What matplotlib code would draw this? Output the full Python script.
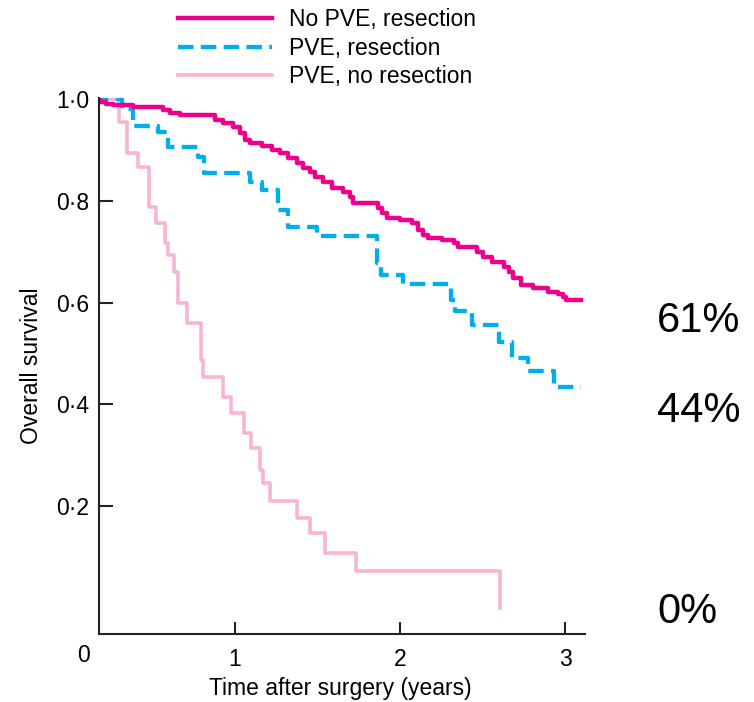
"""Kaplan-Meier style overall survival after surgery, three groups."""
import numpy as np
import matplotlib
matplotlib.use("Agg")
import matplotlib.pyplot as plt

plt.rcParams["font.family"] = ["Liberation Sans", "DejaVu Sans"]

# --- data (years, survival fraction) ---------------------------------------
t_nopve_res = [0.0, 0.184, 0.221, 0.263, 0.384, 0.566, 0.608, 0.669, 0.881, 0.930,
               0.990, 1.033, 1.063, 1.093, 1.166, 1.226, 1.275, 1.324, 1.378, 1.415,
               1.457, 1.487, 1.536, 1.590, 1.657, 1.699, 1.718, 1.869, 1.893, 1.924,
               2.002, 2.075, 2.111, 2.142, 2.172, 2.257, 2.324, 2.354, 2.469, 2.505,
               2.560, 2.627, 2.657, 2.687, 2.730, 2.808, 2.893, 2.954, 2.984, 3.002]
s_nopve_res = [1.0, 0.994, 0.990, 0.988, 0.984, 0.978, 0.972, 0.969, 0.959, 0.953,
               0.945, 0.933, 0.919, 0.914, 0.908, 0.900, 0.894, 0.884, 0.874, 0.864,
               0.857, 0.847, 0.837, 0.825, 0.817, 0.807, 0.796, 0.786, 0.776, 0.766,
               0.762, 0.756, 0.743, 0.733, 0.727, 0.723, 0.717, 0.709, 0.699, 0.690,
               0.680, 0.670, 0.660, 0.648, 0.635, 0.629, 0.621, 0.617, 0.611, 0.605]
end_nopve_res = 3.094

t_pve_res = [0.0, 0.316, 0.384, 0.536, 0.596, 0.778, 0.815, 1.093, 1.166, 1.263, 1.324,
             1.500, 1.861, 1.887, 2.021, 2.306, 2.336, 2.437, 2.602, 2.681, 2.772, 2.930]
s_pve_res = [1.0, 0.980, 0.947, 0.935, 0.906, 0.886, 0.855, 0.837, 0.821, 0.782, 0.749,
             0.731, 0.678, 0.654, 0.637, 0.605, 0.583, 0.556, 0.523, 0.491, 0.466, 0.434]
end_pve_res = 3.094

t_pve_nores = [0.0, 0.298, 0.350, 0.415, 0.481, 0.524, 0.578, 0.596, 0.633, 0.657,
               0.708, 0.795, 0.807, 0.928, 0.976, 1.057, 1.098, 1.154, 1.172, 1.215,
               1.376, 1.457, 1.548, 1.736, 2.608]
s_pve_nores = [1.0, 0.955, 0.894, 0.866, 0.788, 0.756, 0.717, 0.694, 0.660, 0.599,
               0.560, 0.487, 0.454, 0.415, 0.383, 0.344, 0.314, 0.271, 0.246, 0.210,
               0.177, 0.147, 0.108, 0.073, 0.0]
end_pve_nores = 2.608

labels = ["No PVE, resection", "PVE, resection", "PVE, no resection"]
end_pcts = ["61%", "44%", "0%"]

x_ticks = [1, 2, 3]
y_ticks = [0.2, 0.4, 0.6, 0.8, 1.0]
y_ticklabels = ["0·2", "0·4", "0·6", "0·8", "1·0"]

MAGENTA = "#EC008C"
CYAN = "#00AEEF"
PINK = "#F7B5D3"

W, H = 754, 702


def _curve(t, s, end):
    return np.append(t, end), np.append(s, s[-1])


fig = plt.figure(figsize=(W / 100, H / 100), dpi=100)
ax = fig.add_axes([99 / W, 68 / H, 486 / W, 536 / H])

x, y = _curve(t_pve_nores, s_pve_nores, end_pve_nores)
l3, = ax.step(x, y, where="post", color=PINK, lw=2.6, label=labels[2])
x, y = _curve(t_pve_res, s_pve_res, end_pve_res)
l2, = ax.step(x, y, where="post", color=CYAN, lw=3.1, linestyle=(0, (3.6, 1.7)),
              label=labels[1])
x, y = _curve(t_nopve_res, s_nopve_res, end_nopve_res)
l1, = ax.step(x, y, where="post", color=MAGENTA, lw=3.2, label=labels[0])

ax.set_xlim(0.178, 3.12)
ax.set_ylim(-0.051, 1.002)

for side in ("top", "right"):
    ax.spines[side].set_visible(False)
for side in ("left", "bottom"):
    ax.spines[side].set_linewidth(1.5)
    ax.spines[side].set_color("#222222")

ax.set_xticks(x_ticks)
ax.set_xticklabels([str(v) for v in x_ticks])
ax.set_yticks(y_ticks)
ax.set_yticklabels(y_ticklabels)
ax.tick_params(axis="both", direction="in", width=1.5, color="#222222",
               labelsize=16.5)
ax.tick_params(axis="x", length=9, pad=10)
ax.tick_params(axis="y", length=10, pad=7)

# the origin "0" sits at the corner, left of the axis
fig.text(84 / W, 1 - 655 / H, "0", fontsize=16.5, ha="center", va="center")

ax.set_xlabel("Time after surgery (years)", fontsize=16.5)
ax.set_ylabel("Overall survival", fontsize=16.5)
ax.yaxis.set_label_coords(-67 / 486, (634 - 366) / 536)
ax.xaxis.set_label_coords((340 - 99) / 486, -(688 - 634) / 536)
ax.xaxis.label.set_va("center")
ax.yaxis.label.set_va("center")

for txt, ypx in zip(end_pcts, [321, 411, 612]):
    fig.text(657 / W, 1 - ypx / H, txt, fontsize=30, ha="left", va="center")

fig.legend([l1, l2, l3], labels, loc="upper left",
           bbox_to_anchor=(178 / W, 1 - 8 / H), frameon=False, fontsize=16.5,
           handlelength=4.1, handletextpad=0.75, labelspacing=0.25,
           borderpad=0, borderaxespad=0)

fig.savefig("out.png", dpi=100)
